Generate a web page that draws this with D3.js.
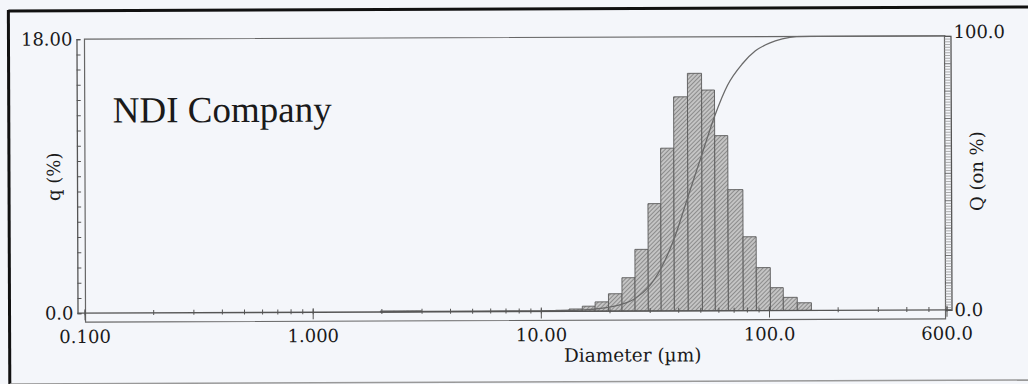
<!DOCTYPE html>
<html>
<head>
<meta charset="utf-8">
<script src="https://cdn.jsdelivr.net/npm/d3@7"></script>
<style>
  html, body { margin: 0; padding: 0; background: #f4f6fa; }
  svg { display: block; }
  text { font-family: "DejaVu Serif", "Liberation Serif", serif; fill: #1a1a1a; }
</style>
</head>
<body>
<div id="app"></div>
<script>
'use strict'

// histogram bins (diameter, um) and q (%) per bin
const binEdges = [1.98, 2.27, 2.6, 3.0, 10.1, 11.6, 13.3, 15.2, 17.3, 19.8, 22.7, 25.9,
                  29.6, 33.7, 38.5, 44.3, 51.1, 58.2, 66.4, 77.2, 88.1, 101.5, 115.6,
                  133.1, 153.5];
const qValues = [0.07, 0.07, 0.07, 0, 0.03, 0.07, 0.15, 0.33, 0.61, 1.14, 2.19, 4.05,
                 7.05, 10.69, 14.06, 15.6, 14.5, 11.5, 7.95, 4.85, 2.82, 1.5, 0.86, 0.5];

// cumulative curve Q (on %)
const cumSizes = [1.98, 3.0, 10.1, 11.6, 13.3, 15.2, 17.3, 19.8, 22.7, 25.9, 29.6, 33.7,
                  38.5, 44.3, 51.1, 58.2, 66.4, 77.2, 88.1, 101.5, 115.6, 133.1, 153.5, 600];
const cumValues = [0, 0.2, 0.2, 0.25, 0.3, 0.5, 0.8, 1.4, 2.5, 4.6, 8.6, 15.6,
                   26.3, 41.5, 57.0, 71.0, 82.3, 90.1, 94.8, 97.6, 99.1, 99.9, 100, 100];

const xLabelValues = [0.1, 1, 10, 100, 600];
const xLabelText = ['0.100', '1.000', '10.00', '100.0', '600.0'];

function render() {
  let width = 1028;
  let height = 384;
  let x0 = 84, x1 = 946, yTop = 37.5, yBase = 311.5;

  let svg = (
    d3.select('#app')
      .append('svg')
      .attr('width', width)
      .attr('height', height));

  // hatch for the bars
  let pat = (svg.append('defs')
    .append('pattern')
      .attr('id', 'hatch')
      .attr('patternUnits', 'userSpaceOnUse')
      .attr('width', 3)
      .attr('height', 3)
      .attr('patternTransform', 'rotate(45)'));
  pat.append('rect').attr('width', 3).attr('height', 3).attr('fill', '#c4c4c4');
  pat.append('line').attr('x1', 0).attr('y1', 0).attr('x2', 0).attr('y2', 3)
    .attr('stroke', '#6e6e6e').attr('stroke-width', 1.3);

  // the scan is a little tilted
  let g = svg.append('g').attr('transform', 'rotate(-0.22, 514, 176)');

  // outer border of the scan
  g.append('line').attr('x1', 9).attr('y1', 9).attr('x2', 1040).attr('y2', 9)
    .attr('stroke', '#111').attr('stroke-width', 3);
  g.append('line').attr('x1', 9).attr('y1', 8).attr('x2', 9).attr('y2', 382)
    .attr('stroke', '#111').attr('stroke-width', 3);
  g.append('line').attr('x1', 9).attr('y1', 382).attr('x2', 1040).attr('y2', 382)
    .attr('stroke', '#999').attr('stroke-width', 1.5);

  let x = d3.scaleLog().domain([0.1, 600]).range([x0, x1]);
  let y = d3.scaleLinear().domain([0, 18]).range([yBase, yTop]);
  let yQ = d3.scaleLinear().domain([0, 100]).range([yBase, yTop]);

  // frame
  g.append('rect')
    .attr('x', 85).attr('y', yTop)
    .attr('width', 860).attr('height', 320.5 - yTop)
    .attr('fill', 'none').attr('stroke', '#666').attr('stroke-width', 1.2);

  // bars
  let bins = qValues.map((q, i) => ({lo: binEdges[i], hi: binEdges[i + 1], q: q}));
  (g.selectAll('rect.bar')
      .data(bins.filter((d) => d.q > 0))
    .enter()
      .append('rect')
        .attr('class', 'bar')
        .attr('x', (d) => x(d.lo))
        .attr('width', (d) => x(d.hi) - x(d.lo))
        .attr('y', (d) => y(d.q))
        .attr('height', (d) => yBase - y(d.q))
        .attr('fill', 'url(#hatch)')
        .attr('stroke', '#5a5a5a')
        .attr('stroke-width', 0.9)
  );

  // cumulative curve
  let cumLine = d3.line()
    .x((d) => x(d[0]))
    .y((d) => yQ(d[1]))
    .curve(d3.curveMonotoneX);
  g.append('path')
    .datum(d3.zip(cumSizes, cumValues))
    .attr('d', cumLine)
    .attr('fill', 'none')
    .attr('stroke', '#6a6a6a')
    .attr('stroke-width', 1.3);

  // left axis with 1% ticks
  let leftAxis = g.append('g')
    .attr('transform', 'translate(77,0)')
    .call(d3.axisRight(y).ticks(18).tickSize(4).tickFormat(''));
  leftAxis.select('.domain').attr('stroke', '#555').attr('stroke-width', 1.3);
  leftAxis.selectAll('.tick line').attr('stroke', '#555');

  // right axis, dense ladder of ticks
  let rightAxis = g.append('g')
    .attr('transform', 'translate(951,0)')
    .call(d3.axisLeft(yQ).tickValues(d3.range(0, 101, 1)).tickSize(6).tickFormat(''));
  rightAxis.select('.domain').attr('stroke', '#555').attr('stroke-width', 1.3);
  rightAxis.selectAll('.tick line')
    .attr('stroke', (d) => d % 10 == 0 ? '#555' : '#999')
    .attr('stroke-width', 0.8);

  // bottom axis line and minor ticks
  let bottomAxis = g.append('g')
    .attr('transform', `translate(0,${yBase})`)
    .call(d3.axisTop(x).tickValues(x.ticks()).tickSize(4).tickFormat('').tickSizeOuter(0));
  bottomAxis.select('.domain').remove();
  bottomAxis.selectAll('.tick line').attr('stroke', '#555').attr('y2', -3).attr('y1', 2);
  g.append('line')
    .attr('x1', 77).attr('x2', 951).attr('y1', yBase).attr('y2', yBase)
    .attr('stroke', '#555').attr('stroke-width', 1.3);

  // decade labels
  let labelAxis = g.append('g')
    .attr('transform', `translate(0,${yBase})`)
    .call(d3.axisBottom(x).tickValues(xLabelValues).tickSize(7).tickPadding(10)
      .tickFormat((d, i) => xLabelText[i]));
  labelAxis.select('.domain').remove();
  labelAxis.selectAll('.tick line').attr('stroke', '#555').attr('y1', -4);
  labelAxis.selectAll('text')
    .attr('style', 'font-size: 18px')
    .attr('font-family', null)
    .attr('fill', '#1a1a1a');

  // y labels
  let yLabels = g.append('g')
    .attr('transform', 'translate(75,0)')
    .call(d3.axisLeft(y).tickValues([0, 18]).tickSize(0).tickPadding(2)
      .tickFormat((d) => d == 0 ? '0.0' : '18.00'));
  yLabels.select('.domain').remove();
  yLabels.selectAll('text').attr('style', 'font-size: 18px').attr('font-family', null).attr('fill', '#1a1a1a');

  let qLabels = g.append('g')
    .attr('transform', 'translate(952,0)')
    .call(d3.axisRight(yQ).tickValues([0, 100]).tickSize(0).tickPadding(2)
      .tickFormat((d) => d.toFixed(1)));
  qLabels.select('.domain').remove();
  qLabels.selectAll('text').attr('style', 'font-size: 18px').attr('font-family', null).attr('fill', '#1a1a1a');
  qLabels.selectAll('.tick').filter((d) => d == 100).select('text').attr('dy', '0.1em');

  // titles
  g.append('text')
    .attr('x', 632).attr('y', 362)
    .attr('text-anchor', 'middle')
    .attr('style', 'font-size: 18.5px')
    .text('Diameter (µm)');

  g.append('text')
    .attr('transform', 'translate(60,175) rotate(-90)')
    .attr('text-anchor', 'middle')
    .attr('style', 'font-size: 18px')
    .text('q (%)');

  g.append('text')
    .attr('transform', 'translate(983,173) rotate(-90)')
    .attr('text-anchor', 'middle')
    .attr('style', 'font-size: 18px')
    .text('Q (on %)');

  g.append('text')
    .attr('x', 113).attr('y', 121)
    .attr('style', 'font-size: 37px; font-family: "Liberation Serif", serif')
    .text('NDI Company');
}

render();
</script>
</body>
</html>
